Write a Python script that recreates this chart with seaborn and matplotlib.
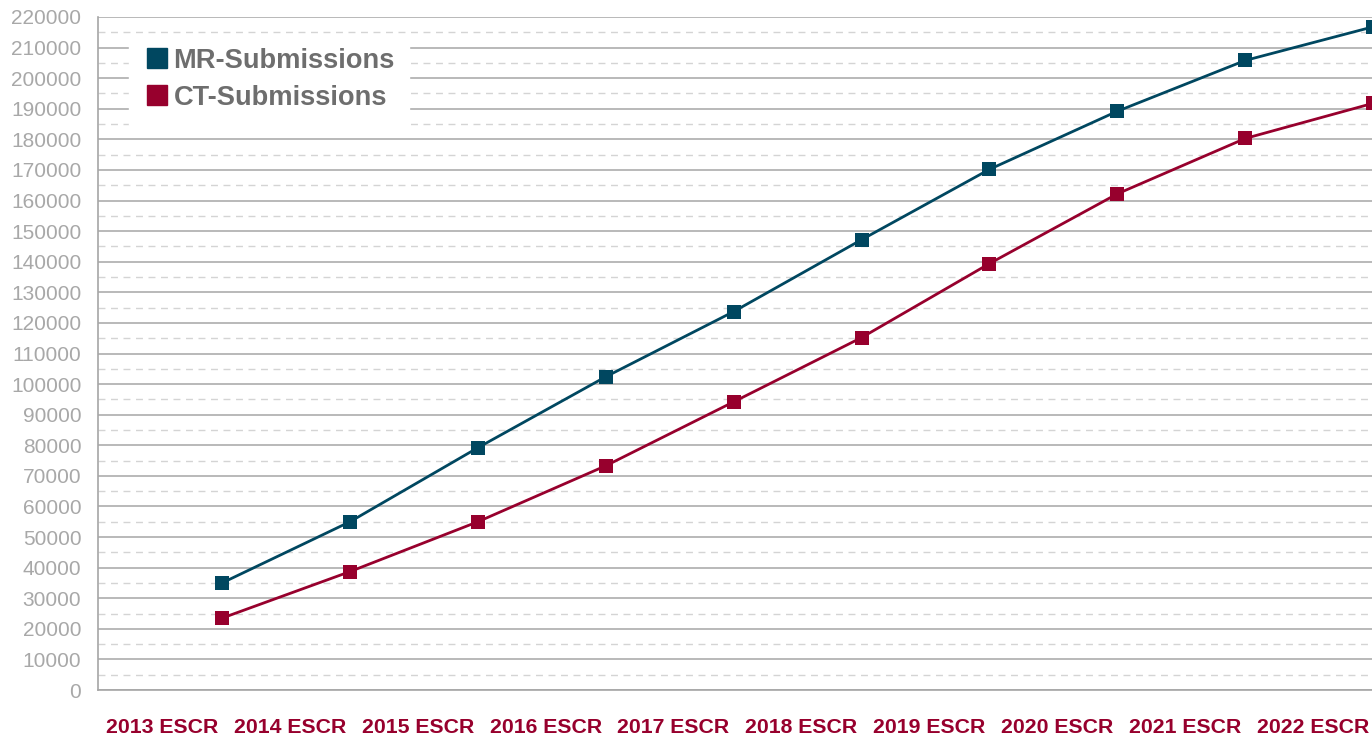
import numpy as np
import pandas as pd
import matplotlib
matplotlib.use("Agg")
import matplotlib.pyplot as plt
from matplotlib.lines import Line2D
from matplotlib.ticker import MultipleLocator
import seaborn as sns

# Data
categories = ["2013 ESCR", "2014 ESCR", "2015 ESCR", "2016 ESCR", "2017 ESCR",
              "2018 ESCR", "2019 ESCR", "2020 ESCR", "2021 ESCR", "2022 ESCR"]
mr_submissions = [35000, 55000, 79200, 102400, 123700, 147200, 170200, 189200, 205800, 216800]
ct_submissions = [23500, 38700, 55000, 73300, 94200, 115200, 139400, 162200, 180300, 191800]

mr_color = "#004760"
ct_color = "#97002d"
grid_color = "#a6a6a6"
label_gray = "#a8a8a8"

sns.set_theme(style="white")
plt.rcParams["font.family"] = ["Liberation Sans", "DejaVu Sans"]

n = len(categories)
# points sit near the right edge of each category band
point_x = np.arange(n) + 0.97
df = pd.DataFrame({
    "x": np.concatenate([point_x, point_x]),
    "value": mr_submissions + ct_submissions,
    "series": ["MR-Submissions"] * n + ["CT-Submissions"] * n,
})

fig = plt.figure(figsize=(13.72, 7.36), dpi=100)
ax = fig.add_axes([98 / 1372, 46 / 736, 1274 / 1372, 673 / 736])

sns.lineplot(data=df, x="x", y="value", hue="series",
             palette={"MR-Submissions": mr_color, "CT-Submissions": ct_color},
             marker="s", markersize=10, markeredgewidth=0, linewidth=2,
             ax=ax, legend=False, zorder=3, clip_on=False)

ax.set_xlim(0, 1274 / 127.9)
ax.set_ylim(0, 220000)

# y axis
ax.yaxis.set_major_locator(MultipleLocator(10000))
ax.yaxis.set_minor_locator(MultipleLocator(5000))
ax.set_yticklabels([f"{int(v)}" for v in ax.get_yticks()])
ax.tick_params(axis="y", which="both", length=0, pad=12, labelsize=15, labelcolor=label_gray)
ax.grid(axis="y", which="major", color=grid_color, linewidth=1.1, linestyle="-")
ax.grid(axis="y", which="minor", color="#d4d4d4", linewidth=1, linestyle=(0, (5, 4)))
ax.grid(axis="x", visible=False)
ax.set_axisbelow(True)

# x axis: labels in band centres, tick marks at band boundaries
ax.set_xticks(np.arange(n) + 0.5)
ax.set_xticklabels(categories, fontsize=15.3, fontweight="bold", color=ct_color)
ax.set_xticks(np.arange(1, n), minor=True)
ax.tick_params(axis="x", which="major", length=0, pad=20)
ax.tick_params(axis="x", which="minor", direction="in", length=11, width=1.2, color=grid_color)
ax.set_xlabel("")
ax.set_ylabel("")

for side in ["top", "right"]:
    ax.spines[side].set_visible(False)
for side in ["left", "bottom"]:
    ax.spines[side].set_color(grid_color)
    ax.spines[side].set_linewidth(1.2)

handles = [Line2D([], [], linestyle="none", marker="s", markersize=14, color=mr_color),
           Line2D([], [], linestyle="none", marker="s", markersize=14, color=ct_color)]
leg = ax.legend(handles, ["MR-Submissions", "CT-Submissions"], loc="upper left",
                bbox_to_anchor=(0.014, 0.995), frameon=True, fancybox=False,
                framealpha=1, edgecolor="white", facecolor="white",
                prop={"size": 19.6, "weight": "bold"}, handletextpad=0.12,
                handlelength=1.0, labelspacing=0.42, borderpad=0.5)
for t in leg.get_texts():
    t.set_color("#6e6e6e")

fig.savefig("out.png", dpi=100)
